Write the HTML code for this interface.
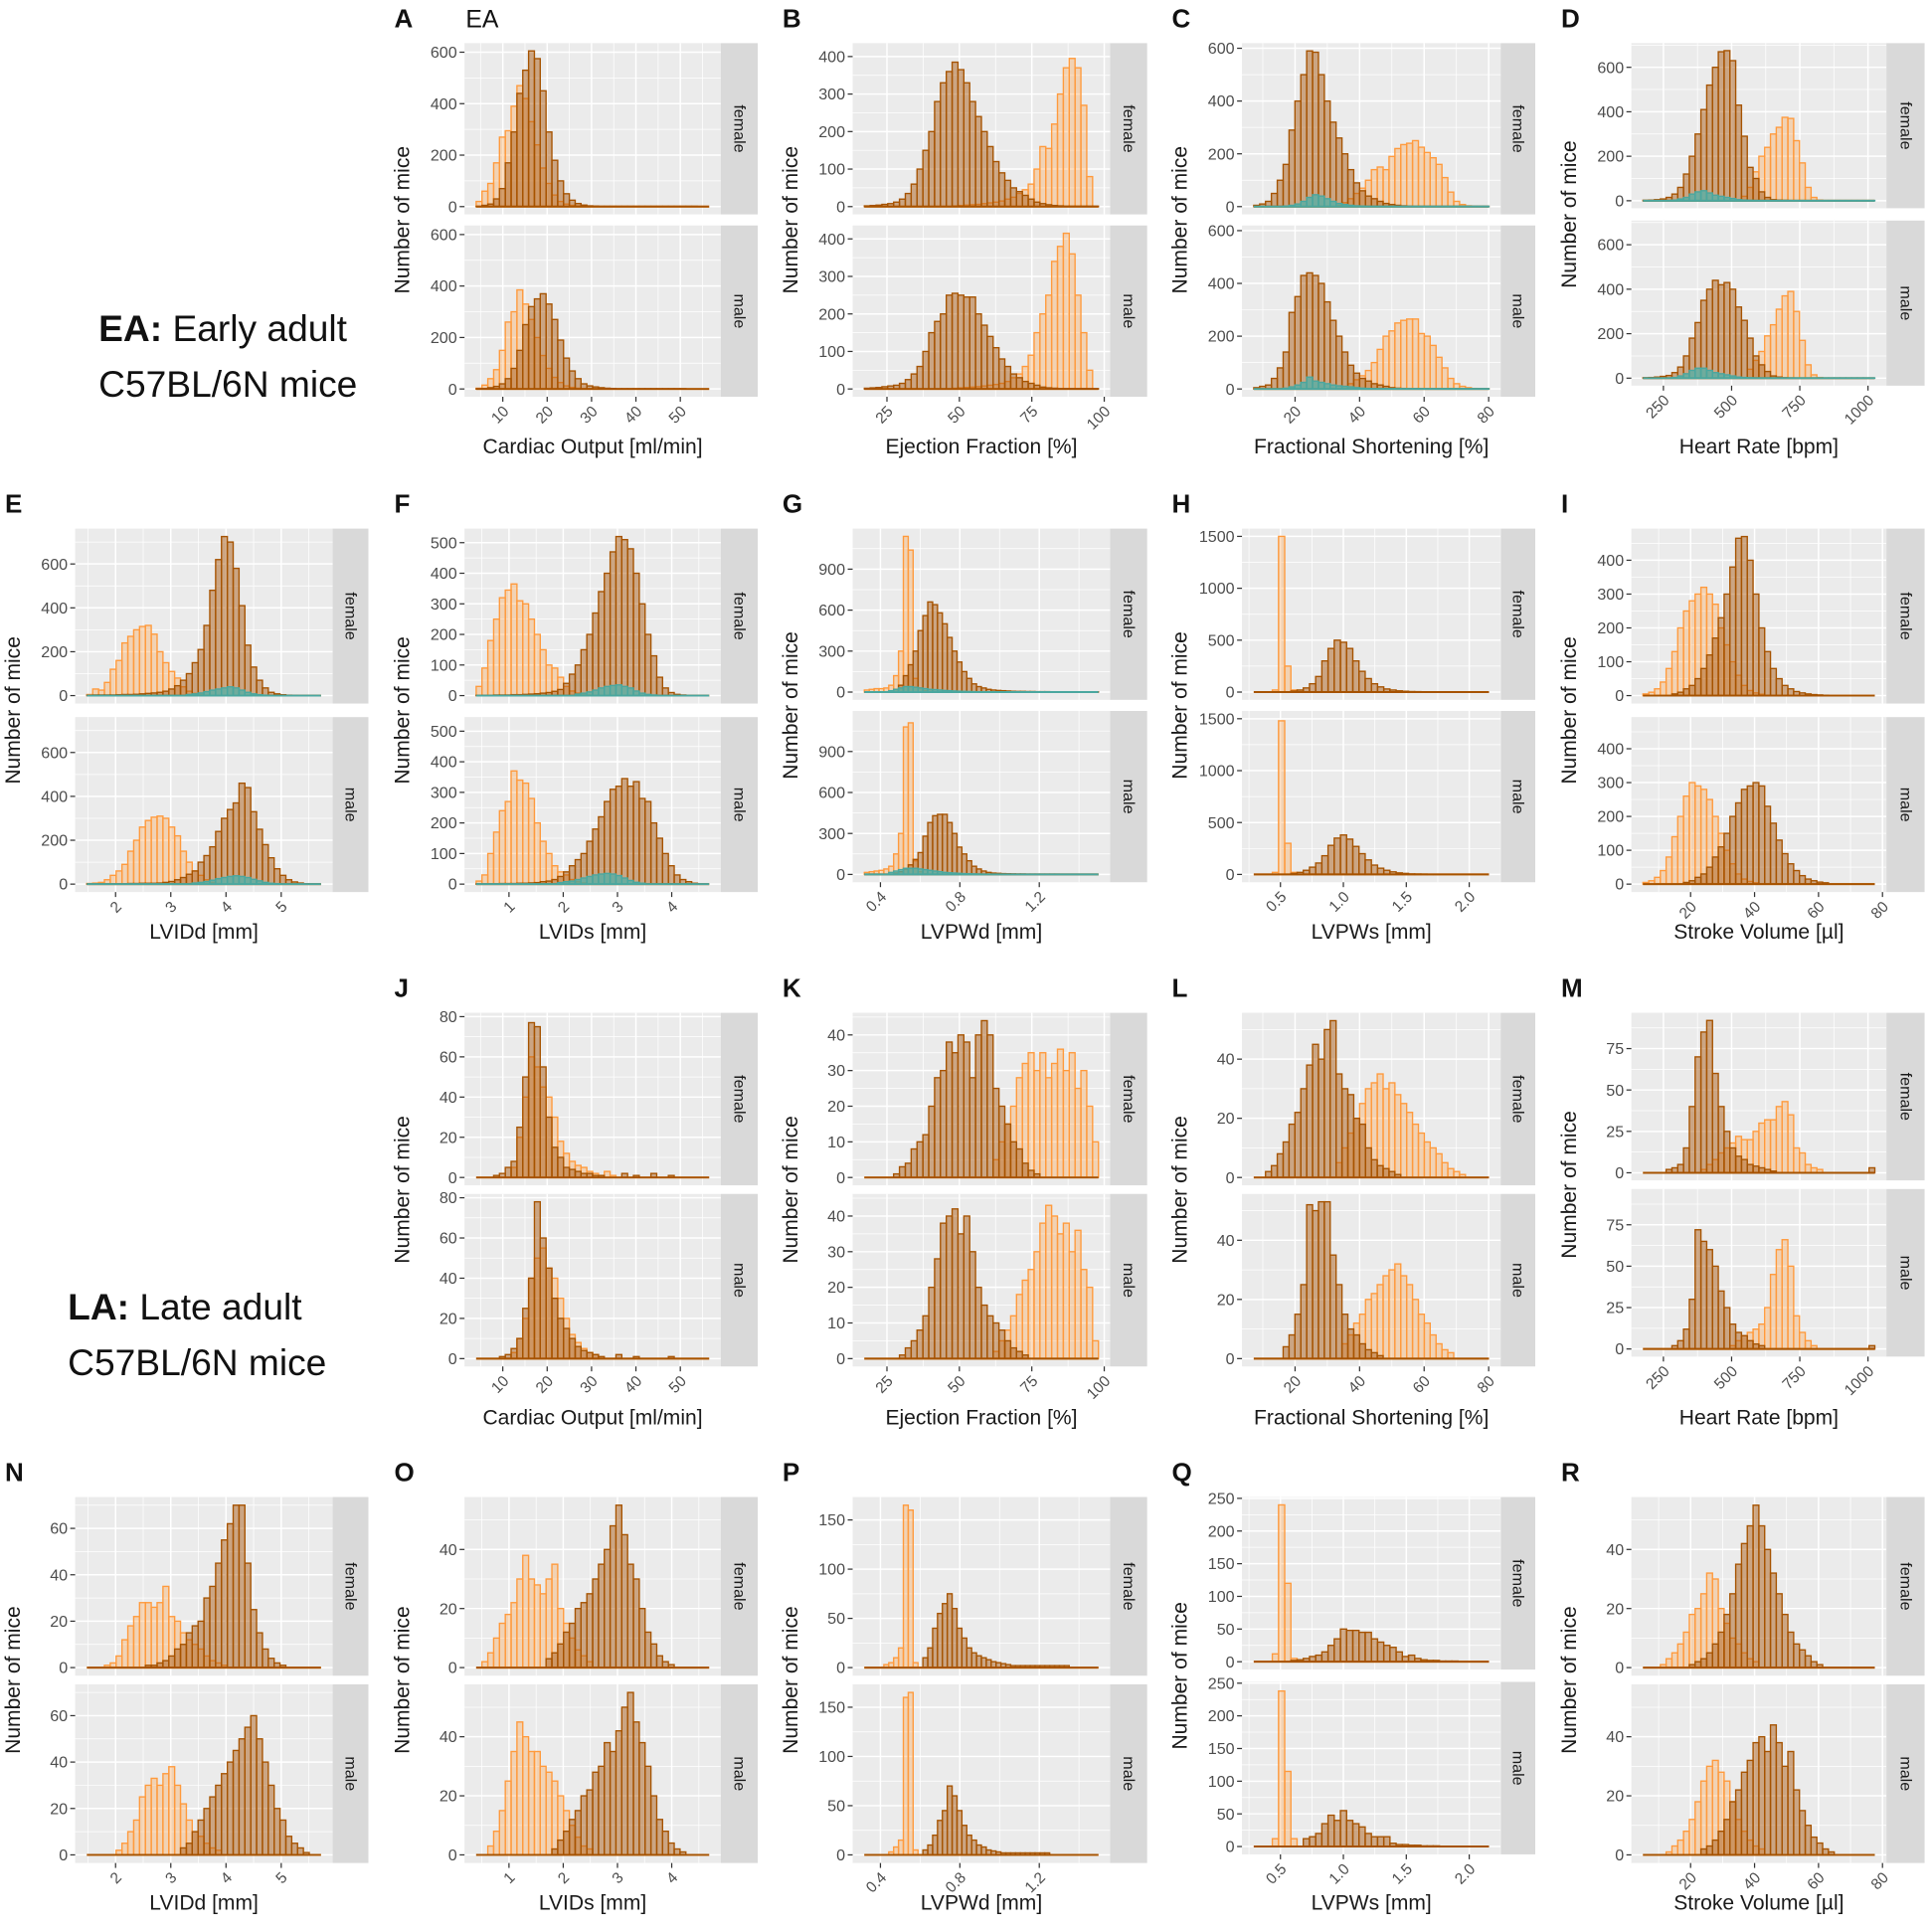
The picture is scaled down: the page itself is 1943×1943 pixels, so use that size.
<!DOCTYPE html>
<html><head><meta charset="utf-8"><style>
html,body{margin:0;padding:0;background:#fff;}
svg{display:block;font-family:"Liberation Sans",Arial,sans-serif;}
</style></head><body>
<svg id="fig" width="1943" height="1943" viewBox="0 0 1568 1568" xmlns="http://www.w3.org/2000/svg">
<rect width="1568" height="1568" fill="#fff"/>
<g font-size="30" fill="#111">
<text x="80" y="277"><tspan font-weight="bold">EA:</tspan> Early adult</text>
<text x="80" y="322">C57BL/6N mice</text>
</g>
<g font-size="30" fill="#111">
<text x="55" y="1071"><tspan font-weight="bold">LA:</tspan> Late adult</text>
<text x="55" y="1116">C57BL/6N mice</text>
</g>
<text x="378" y="22" font-size="20" fill="#111">EA</text>
</svg>
<script>
// ---- data: histogram counts per bin (female/male, dark/light/teal series) ----
const A_fd=[1,5,10,30,70,170,290,440,530,605,575,450,290,180,100,50,25,12,6,3,2,1,1,1,1,1,1,1,1,1,1,1,1,1,1,1,1,1];
const A_fl=[20,60,90,170,270,295,390,470,420,330,240,150,90,45,20,10,5,3,2,1];
const A_md=[1,2,5,10,20,40,80,150,250,320,350,370,330,270,190,120,70,40,20,12,8,5,3,2,1,1,1,1,1,1,1,1,1,1,1,1];
const A_ml=[3,15,40,75,150,260,300,385,330,270,200,130,80,45,25,12,6,3,2,1];
const B_fd=[2,3,4,6,8,12,20,35,60,100,150,200,280,330,360,385,365,330,280,240,200,160,120,90,70,50,40,30,20,12,8,5,3,2,1,1,1,1,1,1];
const B_fl=[0,0,0,0,0,0,0,0,0,0,0,0,0,0,0,2,3,4,5,6,8,10,12,15,20,25,35,45,60,100,160,155,220,300,370,395,370,270,80,0];
const B_md=[2,3,4,6,8,10,15,25,40,60,100,150,180,200,250,255,250,245,245,200,170,140,110,80,60,40,30,20,15,10,5,3,2,1,1,1,1,1,1,1];
const B_ml=[0,0,0,0,0,0,0,0,0,0,0,0,0,0,0,2,3,4,5,6,8,10,12,15,20,30,40,60,90,150,200,250,340,380,415,360,250,150,50,0];
const C_fd=[5,10,20,50,100,160,290,400,500,590,585,500,400,320,260,200,140,90,60,40,30,20,12,8,5,3,2,1,1,1,1,1,1,1,1,1,1,1,1,1];
const C_fl=[0,0,0,0,0,0,0,0,0,0,0,0,0,0,5,15,30,50,70,100,140,150,140,190,220,235,240,250,225,205,185,160,110,55,20,8,3,1,0,0];
const C_ft=[0,0,0,0,0,2,5,10,20,35,45,40,30,20,12,8,5,3,2,1,1,1,1,1,1,1,1,1,1,1,1,1,1,1,1,1,1,1,1,1];
const C_md=[5,10,15,40,80,140,290,350,430,440,430,400,330,260,200,140,90,60,40,30,20,15,10,5,3,2,1,1,1,1,1,1,1,1,1,1,1,1,1,1];
const C_ml=[0,0,0,0,0,0,0,0,0,0,0,0,0,0,0,10,20,35,50,70,100,150,200,220,250,260,265,265,210,200,165,120,80,40,20,10,5,2];
const C_mt=[0,0,0,0,0,3,8,15,25,45,30,25,20,15,12,10,8,5,3,2,1,1,1,1,1,1,1,1,1,1,1,1,1,1,1,1,1,1,1,1];
const D_fd=[2,3,5,8,15,30,60,120,200,300,410,520,600,670,675,630,430,290,150,100,40,15,5,3,2,1];
const D_fl=[0,0,0,0,0,0,0,0,0,0,0,0,0,0,0,0,0,20,60,130,200,240,300,330,375,370,270,170,60,15,3];
const D_ft=[0,0,0,0,0,3,8,15,30,40,45,35,25,20,15,10,5,3,2,1,1,1,1,1,1,1,1,1,1,1,1,1,1,1,1,1,1,1,1,1];
const D_md=[2,3,5,8,12,25,50,100,180,250,350,400,440,420,430,400,320,260,180,100,60,30,10,5,2,1];
const D_ml=[0,0,0,0,0,0,0,0,0,0,0,0,0,0,0,0,0,0,40,80,120,190,240,310,370,390,300,170,60,15,3];
const D_mt=[0,0,0,0,0,3,10,20,35,45,45,35,25,20,15,10,5,3,2,1,1,1,1,1,1,1,1,1,1,1,1,1,1,1,1,1,1,1,1,1];
const E_fd=[2,3,3,3,3,4,5,5,6,8,10,12,15,20,30,45,70,100,150,210,320,480,620,725,700,580,410,230,130,70,35,15,8,4,2,1];
const E_fl=[5,30,25,60,120,160,240,270,300,315,320,280,200,150,110,80,40,20,10,5,2];
const E_ft=[0,0,0,0,0,0,0,0,0,0,0,0,0,0,0,0,0,5,8,12,18,25,30,35,40,35,25,15,8,4,2];
const E_md=[1,1,1,1,2,2,2,3,3,4,4,4,5,8,12,20,30,45,60,100,130,170,240,300,340,370,460,440,330,250,180,120,70,40,20,10,5,2];
const E_ml=[3,5,8,20,40,60,90,150,200,260,290,305,310,300,260,220,150,100,60,40,20,8,3];
const E_mt=[0,0,0,0,0,0,0,0,0,0,0,0,0,0,0,0,0,0,5,8,12,18,25,30,35,38,35,30,22,15,8,4,2];
const F_fd=[1,1,1,2,2,2,3,3,4,5,6,8,10,14,20,40,70,100,150,200,270,340,400,470,520,510,480,400,300,200,130,60,25,10,4,2];
const F_fl=[30,90,180,250,320,345,365,310,300,250,200,150,100,90,60,30,15,8,4,2];
const F_ft=[0,0,0,0,0,0,0,0,0,0,0,0,0,0,0,0,0,5,8,12,18,25,30,33,35,30,25,15,8,4,2];
const F_md=[1,1,1,1,2,2,2,3,3,4,5,8,10,15,25,40,60,80,100,140,180,220,270,310,320,345,320,335,280,270,200,150,100,60,30,15,8,3];
const F_ml=[10,30,100,170,240,270,370,340,330,280,200,140,100,60,40,30,15,8,4];
const F_mt=[0,0,0,0,0,0,0,0,0,0,0,0,0,0,5,8,10,15,20,25,30,33,35,33,28,20,12,6,3];
const G_fl=[15,20,25,25,30,50,120,300,1140,1040,100,30,10,5,2];
const G_fd=[0,0,0,0,0,0,20,50,120,200,300,450,560,660,640,580,500,400,300,220,150,100,60,40,30,20,15,12,10,8,6,5,5,4,4,3,3,3,2,2,2,2,2,2,2,2,2,2];
const G_ft=[0,0,0,0,0,10,20,30,40,40,35,30,25,20,18,15,12,10,8,6,5,4,3,2,2,1];
const G_ml=[15,20,25,30,40,60,150,300,1080,1110,100,20,5];
const G_md=[0,0,0,0,0,0,10,20,40,70,110,160,280,380,430,440,440,380,300,200,150,100,60,40,25,15,10,8,6,5,4,3,3,2,2,2,2,2,2,2];
const G_mt=[0,0,0,0,0,15,25,35,45,45,45,40,35,30,25,20,15,12,10,8,6,5,4,3];
const H_fl=[0,0,0,20,1500,250,20,5];
const H_fd=[0,0,0,0,0,0,10,20,40,80,150,300,420,500,480,420,300,200,130,80,50,30,20,12,8,5,4,3,2,2,1,1,1,1];
const H_ml=[0,0,0,20,1480,300,20];
const H_md=[0,0,0,0,0,0,10,20,40,70,110,180,280,350,380,340,270,200,140,90,60,40,25,15,10,5,4,3,2,1];
const I_fd=[0,0,0,0,0,5,10,20,30,50,80,120,170,230,300,380,465,470,400,300,200,130,80,50,30,20,12,8,5,3,2,1];
const I_fl=[5,10,20,40,80,130,200,250,280,300,320,300,270,200,150,100,60,30,15,8,4];
const I_md=[0,0,0,0,0,0,0,5,10,20,30,50,80,110,150,200,240,280,290,300,290,230,180,130,90,60,40,25,15,10,6,4];
const I_ml=[5,10,20,40,80,140,200,260,300,290,280,250,200,150,100,60,30,15,8,4];
const J_fd=[0,0,0,1,2,5,8,25,50,77,75,55,30,15,10,5,4,3,2,2,1,1,0,0,0,2,0,1,0,0,2,0,0,1];
const J_fl=[0,0,0,0,0,0,5,20,40,60,55,45,40,30,18,12,8,6,5,3,2,1,3,1];
const J_md=[0,0,0,0,1,2,5,10,25,40,78,60,45,30,20,15,10,6,4,3,2,1,0,0,2,0,0,1,0,0,0,0,0,1];
const J_ml=[0,0,0,0,0,0,3,10,20,40,50,55,45,40,30,20,12,8,5,3,2];
const K_fd=[0,0,0,0,0,1,3,4,8,10,12,20,28,30,38,35,40,38,28,40,44,40,25,20,15,10,8,4,2,1];
const K_fl=[0,0,0,0,0,0,0,0,0,0,0,0,0,0,0,0,0,0,0,0,0,0,5,10,15,20,28,32,35,30,35,28,32,36,30,35,25,30,20,10];
const K_md=[0,0,0,0,0,0,1,3,5,8,12,20,28,38,40,42,35,40,30,20,15,12,10,8,5,3,2,1];
const K_ml=[0,0,0,0,0,0,0,0,0,0,0,0,0,0,0,0,0,0,0,0,0,0,2,5,8,12,18,22,25,30,38,43,40,35,38,30,36,25,20,5];
const L_fd=[0,0,2,4,8,12,18,22,30,38,45,40,50,53,35,30,28,20,18,10,6,4,3,2,1];
const L_fl=[0,0,0,0,0,0,0,0,0,0,0,0,0,0,5,10,15,20,25,30,32,35,30,32,28,25,22,18,15,12,10,8,5,3,2,1];
const L_md=[0,0,0,0,0,4,8,15,25,52,50,53,53,35,25,15,10,8,5,3,2,1];
const L_ml=[0,0,0,0,0,0,0,0,0,0,0,0,0,0,0,5,8,12,15,20,22,25,28,30,32,28,25,20,15,12,8,5,3,2];
const M_fd=[0,0,0,0,2,3,5,15,40,70,85,92,60,40,25,15,10,8,5,4,3,2,1,0,0,0,0,0,0,0,0,0,0,0,0,0,0,0,0,3];
const M_fl=[0,0,0,0,0,0,0,0,0,0,2,5,8,12,15,18,22,20,20,25,30,32,32,40,43,35,15,12,5,3,2];
const M_md=[0,0,0,0,0,2,5,12,30,72,65,60,50,35,25,15,10,8,5,3,2,0,0,0,0,0,0,0,0,0,0,0,0,0,0,0,0,0,0,2];
const M_ml=[0,0,0,0,0,0,0,0,0,0,0,0,0,0,0,2,5,8,10,12,15,25,45,60,66,50,20,10,5,2];
const N_fd=[0,0,0,0,0,0,0,0,0,0,1,1,2,3,5,8,10,15,18,20,30,35,45,55,62,70,70,45,25,15,8,4,2,1];
const N_fl=[0,0,0,1,2,5,12,18,22,28,28,26,28,35,22,20,15,12,10,8,5,3,2,1];
const N_md=[0,0,0,0,0,0,0,0,0,0,0,0,0,0,0,0,3,5,10,15,20,25,30,35,40,45,50,55,60,50,40,30,20,15,8,5,3,1];
const N_ml=[0,0,0,0,0,2,5,10,15,25,30,33,30,35,38,30,22,15,10,8,5,3,2];
const O_fd=[0,0,0,0,0,0,0,0,0,0,0,0,3,5,8,12,15,20,22,25,30,35,40,48,55,45,35,30,20,12,8,4,2,1];
const O_fl=[0,2,5,10,15,18,22,30,38,30,28,25,30,35,20,15,10,6,4,2];
const O_md=[0,0,0,0,0,0,0,0,0,0,0,0,0,2,5,8,12,15,20,22,28,30,38,35,42,50,55,45,38,30,20,12,8,4,2,1];
const O_ml=[0,0,3,8,15,25,35,45,40,35,35,30,28,25,20,15,10,6,3,2];
const P_fl=[0,0,0,0,3,5,10,20,165,160,5];
const P_fd=[0,0,0,0,0,0,0,0,0,0,0,0,10,20,40,55,65,75,60,40,30,20,15,12,10,8,6,5,4,3,2,2,2,2,2,2,2,2,2,2,2,2];
const P_ml=[0,0,0,0,0,3,8,15,160,165,5];
const P_md=[0,0,0,0,0,0,0,0,0,0,0,0,5,10,20,35,45,70,60,45,30,20,15,10,8,5,4,3,2,2,2,2,2,2,2,2,2,2];
const Q_fl=[0,0,0,12,240,120,5];
const Q_fd=[0,0,0,0,0,0,2,3,5,8,10,15,25,35,50,48,48,45,45,35,30,25,22,15,8,10,5,3,2,2,1,1,1];
const Q_ml=[0,0,0,12,238,115,12];
const Q_md=[0,0,0,0,0,0,0,0,12,15,20,35,48,40,55,40,35,30,20,15,15,15,5,3,3,2,2,1,1,1];
const R_fd=[0,0,0,0,0,0,0,0,1,2,3,5,8,12,18,25,35,42,48,55,48,40,32,25,18,12,8,6,4,2,1];
const R_fl=[0,0,0,1,3,5,8,12,18,20,25,32,30,20,15,10,8,5,3,2];
const R_md=[0,0,0,0,0,0,0,0,0,0,2,3,5,8,12,18,22,28,32,38,40,35,44,38,30,35,22,15,10,6,4,2,1];
const R_ml=[0,0,0,0,1,3,5,8,12,18,25,30,32,28,25,18,12,8,5,3,2];

// x-axis histogram ranges and tick labels
const axCO={lo:4,hi:56.5,n:40,ticks:[10,20,30,40,50],labels:["10","20","30","40","50"],title:"Cardiac Output [ml/min]"};
const axEF={lo:17.2,hi:98,n:40,ticks:[25,50,75,100],labels:["25","50","75","100"],title:"Ejection Fraction [%]"};
const axFS={lo:7.2,hi:80.1,n:40,ticks:[20,40,60,80],labels:["20","40","60","80"],title:"Fractional Shortening [%]"};
const axHR={lo:175,hi:1025,n:40,ticks:[250,500,750,1000],labels:["250","500","750","1000"],title:"Heart Rate [bpm]"};
const axLd={lo:1.48,hi:5.72,n:40,ticks:[2,3,4,5],labels:["2","3","4","5"],title:"LVIDd [mm]"};
const axLs={lo:0.395,hi:4.69,n:40,ticks:[1,2,3,4],labels:["1","2","3","4"],title:"LVIDs [mm]"};
const axPd={lo:0.319,hi:1.498,n:48,ticks:[0.4,0.8,1.2],labels:["0.4","0.8","1.2"],title:"LVPWd [mm]"};
const axPs={lo:0.288,hi:2.157,n:38,ticks:[0.5,1.0,1.5,2.0],labels:["0.5","1.0","1.5","2.0"],title:"LVPWs [mm]"};
const axSV={lo:5.1,hi:77.6,n:40,ticks:[20,40,60,80],labels:["20","40","60","80"],title:"Stroke Volume [µl]"};

const yA=[0,200,400,600], yB=[0,100,200,300,400], yF=[0,100,200,300,400,500], yG=[0,300,600,900], yH=[0,500,1000,1500];
const yJ=[0,20,40,60,80], yK=[0,10,20,30,40], yL=[0,20,40], yM=[0,25,50,75], yN=[0,20,40,60], yP=[0,50,100,150], yQ=[0,50,100,150,200,250];

// ---- layout (not data) ----
const cols=[{l:61,r:270,s:299},{l:377,r:585,s:615},{l:692,r:901,s:931},{l:1008,r:1218,s:1246},{l:1324,r:1531,s:1562}];
const rowsG=[{t:35,h:139,g:9,xt:368},{t:429,h:142,g:11,xt:762},{t:822,h:140,g:7,xt:1156},{t:1215,h:145,g:7,xt:1550}];

const panels=[
 {L:'A',c:1,r:0,ax:axCO,yt:yA,f:[A_fl,A_fd],m:[A_ml,A_md]},
 {L:'B',c:2,r:0,ax:axEF,yt:yB,f:[B_fl,B_fd],m:[B_ml,B_md]},
 {L:'C',c:3,r:0,ax:axFS,yt:yA,f:[C_fl,C_fd,C_ft],m:[C_ml,C_md,C_mt]},
 {L:'D',c:4,r:0,ax:axHR,yt:yA,f:[D_fl,D_fd,D_ft],m:[D_ml,D_md,D_mt],h:134,g:10},
 {L:'E',c:0,r:1,ax:axLd,yt:yA,f:[E_fl,E_fd,E_ft],m:[E_ml,E_md,E_mt]},
 {L:'F',c:1,r:1,ax:axLs,yt:yF,f:[F_fl,F_fd,F_ft],m:[F_ml,F_md,F_mt]},
 {L:'G',c:2,r:1,ax:axPd,yt:yG,f:[G_fl,G_fd,G_ft],m:[G_ml,G_md,G_mt],h:139,g:9},
 {L:'H',c:3,r:1,ax:axPs,yt:yH,f:[H_fl,H_fd],m:[H_ml,H_md],h:139,g:9},
 {L:'I',c:4,r:1,ax:axSV,yt:yB,f:[I_fl,I_fd],m:[I_ml,I_md]},
 {L:'J',c:1,r:2,ax:axCO,yt:yJ,f:[J_fl,J_fd],m:[J_ml,J_md]},
 {L:'K',c:2,r:2,ax:axEF,yt:yK,f:[K_fl,K_fd],m:[K_ml,K_md]},
 {L:'L',c:3,r:2,ax:axFS,yt:yL,f:[L_fl,L_fd],m:[L_ml,L_md]},
 {L:'M',c:4,r:2,ax:axHR,yt:yM,f:[M_fl,M_fd],m:[M_ml,M_md],h:136,g:7},
 {L:'N',c:0,r:3,ax:axLd,yt:yN,f:[N_fl,N_fd],m:[N_ml,N_md]},
 {L:'O',c:1,r:3,ax:axLs,yt:yL,f:[O_fl,O_fd],m:[O_ml,O_md]},
 {L:'P',c:2,r:3,ax:axPd,yt:yP,f:[P_fl,P_fd],m:[P_ml,P_md]},
 {L:'Q',c:3,r:3,ax:axPs,yt:yQ,f:[Q_fl,Q_fd],m:[Q_ml,Q_md],h:140,g:10},
 {L:'R',c:4,r:3,ax:axSV,yt:yL,f:[R_fl,R_fd],m:[R_ml,R_md]}
];
const styles=[
 {stroke:'#ff9a3c',fill:'rgba(255,160,70,0.33)'},
 {stroke:'#a65300',fill:'rgba(165,80,5,0.45)'},
 {stroke:'#4aa79f',fill:'rgba(80,175,165,0.75)'}
];
const NS='http://www.w3.org/2000/svg';
const svg=document.getElementById('fig');
function mk(tag,attrs,parent){const e=document.createElementNS(NS,tag);for(const k in attrs)e.setAttribute(k,attrs[k]);(parent||svg).appendChild(e);return e;}

panels.forEach(p=>{
  const col=cols[p.c], row=rowsG[p.r];
  const h=p.h||row.h, g=p.g||row.g, t=row.t;
  const ax=p.ax, w=(ax.hi-ax.lo)/ax.n;
  const R=ax.hi-ax.lo, x0=ax.lo-0.05*R, x1=ax.hi+0.05*R;
  const xs=v=>col.l+(v-x0)/(x1-x0)*(col.r-col.l);
  let M=0;[...p.f,...p.m].forEach(a=>a.forEach(v=>{if(v>M)M=v;}));
  const y0=-0.05*M, y1=1.05*M;
  const grp=mk('g',{});
  
  
  const lt=mk('text',{x:col.l-57,y:t-13,'font-size':21,'font-weight':'bold',fill:'#111'},grp);
  lt.textContent=p.L;
  
  
  const xstep=ax.ticks[1]-ax.ticks[0], ystep=p.yt[1]-p.yt[0];
  [['female',p.f],['male',p.m]].forEach((fd,fi)=>{
    const top=t+fi*(h+g), bot=top+h;
    const ys=v=>bot-(v-y0)/(y1-y0)*h;
    const fg=mk('g',{},grp);
    
    
    mk('rect',{x:col.l,y:top,width:col.r-col.l,height:h,fill:'#ebebeb'},fg);
    for(let k=-2;k<=ax.ticks.length*2+2;k++){
      const v=ax.ticks[0]+k*xstep/2; if(v<x0||v>x1) continue;
      mk('line',{x1:xs(v),x2:xs(v),y1:top,y2:bot,stroke:'#fff','stroke-width':k%2?0.6:1.2},fg);
    }
    for(let k=-2;k<=p.yt.length*2+2;k++){
      const v=p.yt[0]+k*ystep/2; if(v<y0||v>y1) continue;
      mk('line',{x1:col.l,x2:col.r,y1:ys(v),y2:ys(v),stroke:'#fff','stroke-width':k%2?0.6:1.2},fg);
    }
    fd[1].forEach((arr,si)=>{
      const st=styles[si];
      const sg=mk('g',{},fg);
      
      
      mk('line',{x1:xs(ax.lo),x2:xs(ax.hi),y1:ys(0),y2:ys(0),stroke:st.stroke,'stroke-width':1.6},sg);
      arr.forEach((v,i)=>{
        if(v<=0) return;
        const a=xs(ax.lo+i*w), b=xs(ax.lo+(i+1)*w);
        const r=mk('rect',{x:a,y:ys(v),width:b-a,height:ys(0)-ys(v),fill:st.fill,stroke:st.stroke,'stroke-width':1.1},sg);
        
        
      });
    });
    p.yt.forEach(v=>{
      mk('line',{x1:col.l-4,x2:col.l,y1:ys(v),y2:ys(v),stroke:'#333','stroke-width':1},fg);
      const tx=mk('text',{x:col.l-6,y:ys(v)+4.5,'text-anchor':'end','font-size':13,fill:'#4d4d4d'},fg);
      tx.textContent=String(v);
    });
    mk('rect',{x:col.r,y:top,width:col.s-col.r,height:h,fill:'#d9d9d9'},fg);
    const sx=(col.r+col.s)/2, sy=top+h/2;
    const stx=mk('text',{x:sx,y:sy,transform:'rotate(90 '+sx+' '+sy+')','text-anchor':'middle','dominant-baseline':'central','font-size':13,fill:'#1a1a1a'},fg);
    stx.textContent=fd[0];
    
    
    if(fi===1){
      ax.ticks.forEach((v,k)=>{
        mk('line',{x1:xs(v),x2:xs(v),y1:bot,y2:bot+4,stroke:'#333','stroke-width':1},grp);
        const px=xs(v)+3, py=bot+10;
        const tx=mk('text',{x:px,y:py,transform:'rotate(-45 '+px+' '+py+')','text-anchor':'end','dominant-baseline':'central','font-size':12.5,fill:'#4d4d4d'},grp);
        tx.textContent=ax.labels[k];
      });
    }
  });
  const xt=mk('text',{x:(col.l+col.r)/2,y:row.xt,'text-anchor':'middle','font-size':17,fill:'#1a1a1a'},grp);
  xt.textContent=ax.title;
  
  
  const yx=col.l-50, yy=t+h+g/2;
  const yt=mk('text',{x:yx,y:yy,transform:'rotate(-90 '+yx+' '+yy+')','text-anchor':'middle','dominant-baseline':'central','font-size':17,fill:'#1a1a1a'},grp);
  yt.textContent='Number of mice';
  
  
});
</script>
</body></html>
